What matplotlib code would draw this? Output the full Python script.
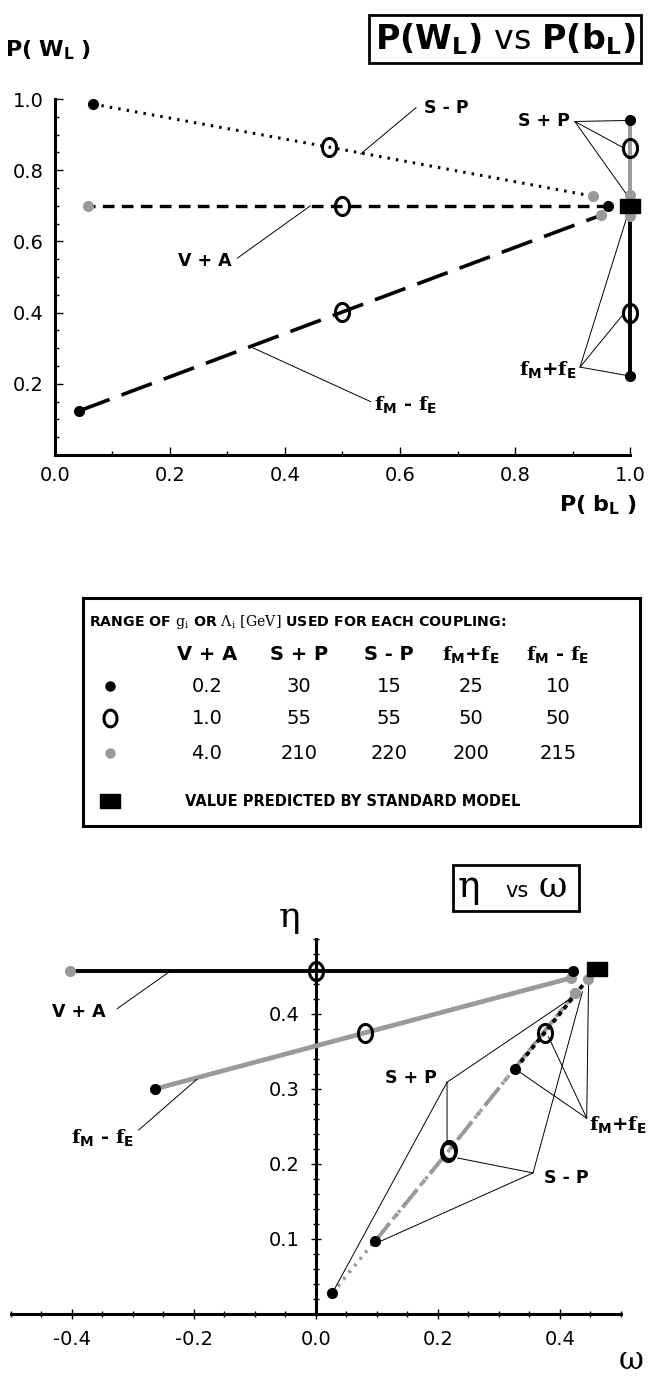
import numpy as np
import matplotlib
matplotlib.use("Agg")
import matplotlib.pyplot as plt
from matplotlib.path import Path
from matplotlib.patches import Rectangle
from matplotlib.ticker import MultipleLocator

plt.rcParams['font.family'] = ['DejaVu Sans']
plt.rcParams['mathtext.fontset'] = 'custom'
plt.rcParams['mathtext.rm'] = 'DejaVu Serif'
plt.rcParams['mathtext.sf'] = 'DejaVu Sans:bold'
plt.rcParams['mathtext.bf'] = 'DejaVu Serif:bold'
plt.rcParams['mathtext.it'] = 'DejaVu Serif:italic'

GRAY = '#9a9a9a'

# each coupling: points ordered [small (black), medium (open), large (gray)]
couplings = ['V+A', 'S+P', 'S-P', 'fM+fE', 'fM-fE']

# top panel: P(b_L), P(W_L)
pb = {'V+A': [0.962, 0.50, 0.058],
      'S+P': [1.0, 1.0, 1.0],
      'S-P': [0.066, 0.477, 0.936],
      'fM+fE': [1.0, 1.0, 1.0],
      'fM-fE': [0.042, 0.50, 0.95]}
pw = {'V+A': [0.70, 0.70, 0.70],
      'S+P': [0.94, 0.862, 0.73],
      'S-P': [0.986, 0.865, 0.727],
      'fM+fE': [0.222, 0.399, 0.671],
      'fM-fE': [0.124, 0.402, 0.674]}
sm_top = (1.0, 0.70)

# bottom panel: omega, eta
omega = {'V+A': [0.421, 0.0, -0.403],
         'S+P': [0.027, 0.216, 0.425],
         'S-P': [0.097, 0.218, 0.425],
         'fM+fE': [0.327, 0.375, 0.446],
         'fM-fE': [-0.264, 0.081, 0.418]}
eta = {'V+A': [0.457, 0.457, 0.457],
       'S+P': [0.028, 0.216, 0.428],
       'S-P': [0.097, 0.218, 0.428],
       'fM+fE': [0.327, 0.375, 0.447],
       'fM-fE': [0.30, 0.375, 0.448]}
sm_bot = (0.461, 0.460)

FMP = r'$\mathbf{f}_{\mathsf{M}}$+$\mathbf{f}_{\mathsf{E}}$'
FMM = r'$\mathbf{f}_{\mathsf{M}}$ - $\mathbf{f}_{\mathsf{E}}$'

# legend table
col_heads = ['V + A', 'S + P', 'S - P', FMP, FMM]
rows = [['0.2', '30', '15', '25', '10'],
        ['1.0', '55', '55', '50', '50'],
        ['4.0', '210', '220', '200', '215']]

# markers
t = np.linspace(0, 2 * np.pi, 64)
ellipse = Path(np.column_stack([0.78 * np.cos(t), np.sin(t)]))
rect = Path([(-1, -0.72), (1, -0.72), (1, 0.72), (-1, 0.72), (-1, -0.72)], closed=True)


def draw_points(ax, xs, ys):
    ax.plot(xs[0], ys[0], 'o', ms=7, color='k', zorder=5, clip_on=False)
    ax.plot(xs[1], ys[1], marker=ellipse, ms=13, mfc='none', mec='k', mew=2.2, zorder=5, clip_on=False)
    ax.plot(xs[2], ys[2], 'o', ms=7, color=GRAY, zorder=4, clip_on=False)


def leader(ax, text, txy, anchor, targets, fs=12.5, ha='center'):
    ax.text(txy[0], txy[1], text, fontsize=fs, fontweight='bold', ha=ha, va='center', clip_on=False)
    for tx, ty in targets:
        ax.annotate('', xy=(tx, ty), xytext=anchor,
                    arrowprops=dict(arrowstyle='-', lw=0.7, color='k', shrinkA=0, shrinkB=0))


fig = plt.figure(figsize=(6.53, 13.76), dpi=100)

# ---------------- top panel ----------------
ax = fig.add_axes([0.0842, 0.6693, 0.8806, 0.2587])
ax.set_xlim(0, 1)
ax.set_ylim(0, 1)
for s in ['top', 'right']:
    ax.spines[s].set_visible(False)
for s in ['left', 'bottom']:
    ax.spines[s].set_linewidth(2.2)
ax.xaxis.set_major_locator(MultipleLocator(0.2))
ax.xaxis.set_minor_locator(MultipleLocator(0.1))
ax.yaxis.set_minor_locator(MultipleLocator(0.05))
ax.set_yticks([0.2, 0.4, 0.6, 0.8, 1.0])
ax.xaxis.set_major_formatter(lambda v, p: f'{v:.1f}')
ax.yaxis.set_major_formatter(lambda v, p: f'{v:.1f}')
ax.tick_params(which='both', direction='in', labelsize=14, width=1)
ax.tick_params(which='major', length=6, pad=8)
ax.tick_params(which='minor', length=3)

styles_top = {'V+A': dict(color='k', lw=2.4, dashes=(3.5, 2.2)),
              'S+P': dict(color=GRAY, lw=2.8, ls='-'),
              'S-P': dict(color='k', lw=2.2, dashes=(0.8, 2.0)),
              'fM+fE': dict(color='k', lw=2.8, ls='-'),
              'fM-fE': dict(color='k', lw=2.6, dashes=(9, 3.5))}
for c in couplings:
    ax.plot(pb[c], pw[c], clip_on=False, zorder=3, **styles_top[c])
for c in couplings:
    draw_points(ax, pb[c], pw[c])
ax.plot(*sm_top, marker=rect, ms=15, color='k', zorder=6, clip_on=False)

leader(ax, 'S - P', (0.68, 0.975), (0.628, 0.976), [(0.531, 0.845)])
leader(ax, 'V + A', (0.26, 0.546), (0.317, 0.553), [(0.444, 0.70)])
leader(ax, FMM, (0.61, 0.143), (0.549, 0.15), [(0.343, 0.302)], fs=14)
leader(ax, 'S + P', (0.85, 0.937), (0.904, 0.937),
       [(1.0, 0.94), (0.99, 0.862), (0.995, 0.73)])
leader(ax, FMP, (0.858, 0.24), (0.913, 0.247),
       [(0.995, 0.671), (0.99, 0.399), (1.0, 0.222)], fs=14)

fig.text(0.073, 0.9637, r'$\mathsf{P(\ W_L\ )}$', fontsize=16, ha='center', va='center')
fig.text(0.915, 0.633, r'$\mathsf{P(\ b_L\ )}$', fontsize=16, ha='center', va='center')
fig.text(0.773, 0.9717, r'$\mathsf{P(W_L)}$ vs $\mathsf{P(b_L)}$', fontsize=24, ha='center', va='center',
         bbox=dict(boxstyle='square,pad=0.18', fc='white', ec='k', lw=2))

# ---------------- legend box ----------------
lg = fig.add_axes([0.1271, 0.3997, 0.853, 0.1657])
lg.set_xlim(0, 557)
lg.set_ylim(228, 0)
lg.set_xticks([])
lg.set_yticks([])
for s in lg.spines.values():
    s.set_linewidth(2.2)
lg.text(6, 24, r'RANGE OF $\mathrm{g_i}$ OR $\mathrm{\Lambda_i}$ $\mathrm{[GeV]}$ USED FOR EACH COUPLING:',
        fontsize=10.2, fontweight='bold', ha='left', va='center')
col_x = [124, 216, 306, 388, 475]
row_y = [88, 120, 155]
for cx, h in zip(col_x, col_heads):
    lg.text(cx, 56, h, fontsize=14, fontweight='bold', ha='center', va='center')
for ry, vals in zip(row_y, rows):
    for cx, v in zip(col_x, vals):
        lg.text(cx, ry, v, fontsize=14, ha='center', va='center')
lg.plot(27, row_y[0], 'o', ms=6.5, color='k')
lg.plot(27, row_y[1], marker=ellipse, ms=12, mfc='none', mec='k', mew=2.2)
lg.plot(27, row_y[2], 'o', ms=6.5, color=GRAY)
lg.plot(27, 203, marker=rect, ms=15, color='k')
lg.text(102, 203, 'VALUE PREDICTED BY STANDARD MODEL', fontsize=10.5, fontweight='bold',
        ha='left', va='center')

# ---------------- bottom panel ----------------
ax2 = fig.add_axes([0.0168, 0.0451, 0.934, 0.2725])
ax2.set_xlim(-0.5, 0.5)
ax2.set_ylim(0, 0.5)
for s in ['top', 'right']:
    ax2.spines[s].set_visible(False)
ax2.spines['left'].set_position(('data', 0))
for s in ['left', 'bottom']:
    ax2.spines[s].set_linewidth(2.2)
ax2.set_xticks([-0.4, -0.2, 0.0, 0.2, 0.4])
ax2.xaxis.set_minor_locator(MultipleLocator(0.05))
ax2.set_yticks([0.1, 0.2, 0.3, 0.4])
ax2.yaxis.set_minor_locator(MultipleLocator(0.02))
ax2.xaxis.set_major_formatter(lambda v, p: f'{v:.1f}')
ax2.yaxis.set_major_formatter(lambda v, p: f'{v:.1f}')
ax2.tick_params(which='both', direction='inout', labelsize=14, width=1)
ax2.tick_params(which='major', length=7, pad=8)
ax2.tick_params(which='minor', length=4)

styles_bot = {'V+A': dict(color='k', lw=2.8, ls='-'),
              'S+P': dict(color=GRAY, lw=2.6, dashes=(0.8, 1.6)),
              'S-P': dict(color=GRAY, lw=2.8, dashes=(6, 2, 1.2, 2)),
              'fM+fE': dict(color='k', lw=2.8, dashes=(1.2, 1.0)),
              'fM-fE': dict(color=GRAY, lw=3.4, ls='-')}
for c in ['V+A', 'fM-fE', 'S+P', 'S-P', 'fM+fE']:
    ax2.plot(omega[c], eta[c], clip_on=False, zorder=3, **styles_bot[c])
for c in couplings:
    draw_points(ax2, omega[c], eta[c])
ax2.plot(*sm_bot, marker=rect, ms=15, color='k', zorder=6, clip_on=False)

leader(ax2, 'V + A', (-0.389, 0.403), (-0.326, 0.407), [(-0.239, 0.457)])
leader(ax2, FMM, (-0.35, 0.235), (-0.291, 0.245), [(-0.195, 0.313)], fs=14)
leader(ax2, 'S + P', (0.155, 0.315), (0.215, 0.309),
       [(0.433, 0.429), (0.215, 0.226), (0.027, 0.028)])
leader(ax2, 'S - P', (0.41, 0.181), (0.356, 0.188),
       [(0.232, 0.208), (0.106, 0.097), (0.437, 0.43)])
leader(ax2, FMP, (0.448, 0.252), (0.444, 0.261),
       [(0.381, 0.37), (0.335, 0.322), (0.447, 0.445)], fs=14, ha='left')

fig.text(0.444, 0.3336, 'η', fontsize=26, family='DejaVu Serif', ha='center', va='center')
fig.text(0.967, 0.0116, 'ω', fontsize=22, family='DejaVu Serif', ha='center', va='center')

# eta vs omega title box
fig.patches.append(Rectangle((453 / 653, 1 - 911 / 1376), 126 / 653, 46 / 1376,
                             transform=fig.transFigure, fill=False, ec='k', lw=2))
fig.text(469 / 653, 1 - 897 / 1376, 'η', fontsize=27, family='DejaVu Serif', ha='center', va='baseline')
fig.text(517 / 653, 1 - 897 / 1376, 'vs', fontsize=15, ha='center', va='baseline')
fig.text(553 / 653, 1 - 897 / 1376, 'ω', fontsize=25, family='DejaVu Serif', ha='center', va='baseline')

fig.savefig('out.png', dpi=100)
